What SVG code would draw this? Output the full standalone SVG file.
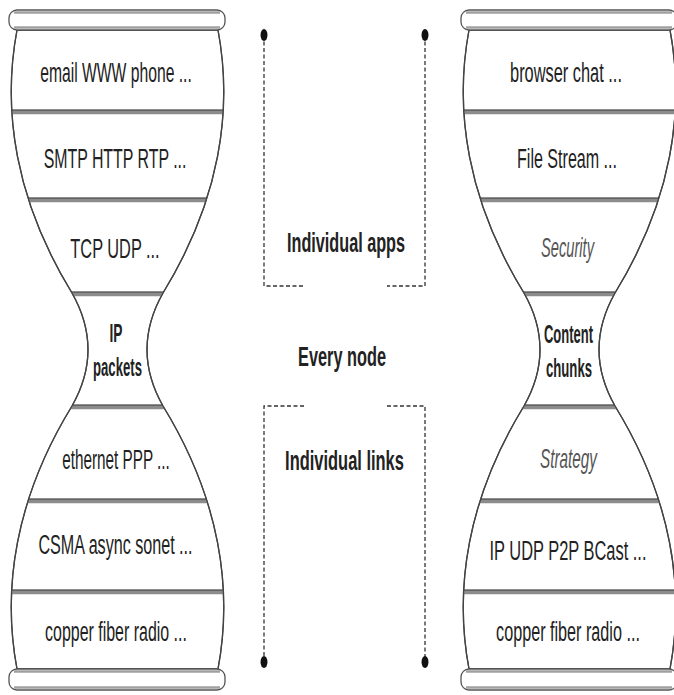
<svg xmlns="http://www.w3.org/2000/svg" xmlns:xlink="http://www.w3.org/1999/xlink" width="674" height="695" viewBox="0 0 674 695">
<style>
  .outline{fill:#fff;stroke:#444;stroke-width:1.3}
  .sepA{stroke:#8c8c8c;stroke-width:4.5}
  .sepB{stroke:#3a3a3a;stroke-width:1.2}
  .cap{fill:#fff;stroke:#555;stroke-width:1.3}
  .capband{stroke:#a0a0a0;stroke-width:2.5}
  .t{font-family:"Liberation Sans",Arial,sans-serif;font-size:28px;fill:#222;text-anchor:middle}
  .b{font-weight:bold;font-size:25px}
  .i{font-style:italic;fill:#555}
  .m{font-family:"Liberation Sans",Arial,sans-serif;font-weight:bold;font-size:28px;fill:#222;text-anchor:middle}
  .dash{fill:none;stroke:#333;stroke-width:1.3;stroke-dasharray:4 2.5}
  .dot{fill:#111}
</style>
<defs>
  <path id="hg" d="M17,30 C2,110 15,200 72,293 Q104,349.5 72,406 C15,499 2,589 17,669 L218,669 C233,589 220,499 163,406 Q131,349.5 163,293 C220,200 233,110 218,30 Z"/>
  <clipPath id="hgclip" clipPathUnits="userSpaceOnUse"><use xlink:href="#hg"/></clipPath>
  <g id="glass">
    <use xlink:href="#hg" class="outline"/>
    <g clip-path="url(#hgclip)">
      <line class="sepA" x1="0" y1="112" x2="240" y2="112"/><line class="sepB" x1="0" y1="110" x2="240" y2="110"/>
      <line class="sepA" x1="0" y1="200" x2="240" y2="200"/><line class="sepB" x1="0" y1="198" x2="240" y2="198"/>
      <line class="sepA" x1="0" y1="294" x2="240" y2="294"/><line class="sepB" x1="0" y1="292" x2="240" y2="292"/>
      <line class="sepA" x1="0" y1="407" x2="240" y2="407"/><line class="sepB" x1="0" y1="405" x2="240" y2="405"/>
      <line class="sepA" x1="0" y1="501" x2="240" y2="501"/><line class="sepB" x1="0" y1="499" x2="240" y2="499"/>
      <line class="sepA" x1="0" y1="592" x2="240" y2="592"/><line class="sepB" x1="0" y1="590" x2="240" y2="590"/>
    </g>
    <use xlink:href="#hg" style="fill:none;stroke:#444;stroke-width:1.3"/>
    <rect class="cap" x="9" y="10" width="216" height="20" rx="8"/>
    <line class="capband" x1="14" y1="12.5" x2="220" y2="12.5"/>
    <line class="capband" x1="14" y1="27.5" x2="220" y2="27.5"/>
    <rect class="cap" x="9" y="669" width="216" height="21" rx="8"/>
    <line class="capband" x1="14" y1="671.5" x2="220" y2="671.5"/>
    <line class="capband" x1="14" y1="687.5" x2="220" y2="687.5"/>
  </g>
</defs>

<g id="stack-left">
  <use xlink:href="#glass"/>
  <g id="l-app"><text class="t" transform="translate(116,82) scale(0.560,1)">email WWW phone ...</text></g>
  <g id="l-proto"><text class="t" transform="translate(115,168) scale(0.568,1)">SMTP HTTP RTP ...</text></g>
  <g id="l-transport"><text class="t" transform="translate(115,258) scale(0.584,1)">TCP UDP ...</text></g>
  <g id="l-ip"><text class="t b" transform="translate(116,342) scale(0.55,1)">IP</text>
    <text class="t b" transform="translate(117.5,376) scale(0.526,1)">packets</text></g>
  <g id="l-link"><text class="t" transform="translate(116,469) scale(0.546,1)">ethernet PPP ...</text></g>
  <g id="l-mac"><text class="t" transform="translate(115.5,554) scale(0.576,1)">CSMA async sonet ...</text></g>
  <g id="l-phys"><text class="t" transform="translate(116,641) scale(0.570,1)">copper fiber radio ...</text></g>
</g>

<g id="stack-right">
  <use xlink:href="#glass" transform="translate(452,0)"/>
  <g id="r-app"><text class="t" transform="translate(566,82) scale(0.585,1)">browser chat ...</text></g>
  <g id="r-stream"><text class="t" transform="translate(567,168) scale(0.574,1)">File Stream ...</text></g>
  <g id="r-security"><text class="t i" transform="translate(567.5,257) scale(0.524,1)">Security</text></g>
  <g id="r-content"><text class="t b" transform="translate(568.5,343) scale(0.519,1)">Content</text>
    <text class="t b" transform="translate(569,377) scale(0.526,1)">chunks</text></g>
  <g id="r-strategy"><text class="t i" transform="translate(568.5,468) scale(0.547,1)">Strategy</text></g>
  <g id="r-net"><text class="t" transform="translate(568,560) scale(0.587,1)">IP UDP P2P BCast ...</text></g>
  <g id="r-phys"><text class="t" transform="translate(568,641) scale(0.578,1)">copper fiber radio ...</text></g>
</g>

<g id="connectors">
  <path class="dash" d="M264,35 V286 H304"/>
  <path class="dash" d="M425,35 V286 H387"/>
  <path class="dash" d="M304,406 H264 V662"/>
  <path class="dash" d="M387,406 H425 V662"/>
  <ellipse class="dot" cx="264" cy="35" rx="3.5" ry="6"/>
  <ellipse class="dot" cx="425" cy="35" rx="3.5" ry="6"/>
  <ellipse class="dot" cx="264" cy="662" rx="3.5" ry="6"/>
  <ellipse class="dot" cx="425" cy="662" rx="3.5" ry="6"/>
</g>

<g id="labels">
  <g id="lbl-apps"><text class="m" transform="translate(346,252) scale(0.579,1)">Individual apps</text></g>
  <g id="lbl-node"><text class="m" transform="translate(342,366) scale(0.583,1)">Every node</text></g>
  <g id="lbl-links"><text class="m" transform="translate(344.5,470) scale(0.588,1)">Individual links</text></g>
</g>
</svg>
